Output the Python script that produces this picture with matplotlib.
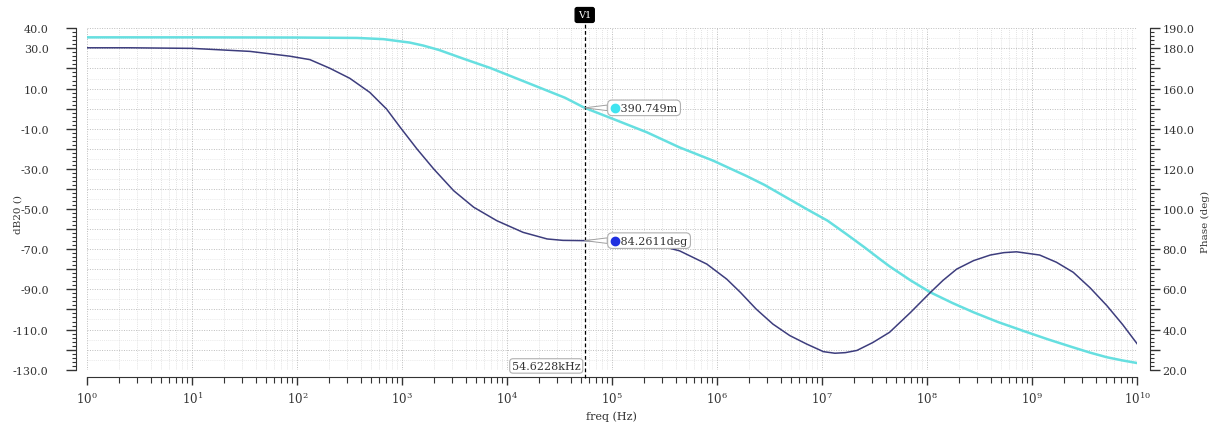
import numpy as np
import matplotlib
matplotlib.use("Agg")
import matplotlib.pyplot as plt
import matplotlib.transforms as mtransforms
from matplotlib.ticker import FixedLocator, MultipleLocator, FuncFormatter, NullFormatter, LogFormatterMathtext

plt.rcParams['font.family'] = ['DejaVu Serif']
plt.rcParams['mathtext.fontset'] = 'dejavuserif'

# ---------------- data ----------------
mag_exp = [0.0, 1.0, 2.0, 2.57, 2.82, 2.98, 3.07, 3.20, 3.35, 3.58, 3.84, 4.09, 4.32, 4.55, 4.737,
           5.01, 5.33, 5.64, 5.96, 6.28, 6.45, 6.60, 6.85, 7.05, 7.23, 7.40, 7.55, 7.64, 7.84,
           8.03, 8.24, 8.44, 8.67, 8.91, 9.15, 9.39, 9.55, 9.71, 9.86, 10.0]
mag_db = [35.5, 35.5, 35.4, 35.2, 34.6, 33.5, 32.9, 31.4, 29.2, 24.9, 20.2, 15.0, 10.2, 5.4, 0.39,
          -5.2, -11.8, -19.3, -25.9, -33.6, -38.0, -42.5, -50.0, -55.8, -62.5, -69.0, -75.0, -78.5, -85.5,
          -91.5, -96.8, -101.4, -106.2, -110.6, -114.9, -118.9, -121.5, -123.8, -125.4, -126.7]

ph_exp = [0.0, 0.4, 1.0, 1.55, 1.93, 2.12, 2.31, 2.50, 2.69, 2.85, 2.98, 3.14, 3.30, 3.49, 3.68,
          3.90, 4.15, 4.38, 4.53, 4.737, 5.0, 5.33, 5.64, 5.90, 6.09, 6.22, 6.37, 6.53, 6.69, 6.85,
          7.01, 7.12, 7.22, 7.33, 7.48, 7.64, 7.84, 8.03, 8.15, 8.28, 8.44, 8.60, 8.73, 8.85, 9.07,
          9.23, 9.39, 9.55, 9.71, 9.86, 10.0]
ph_deg = [180.3, 180.3, 180.0, 178.5, 176.1, 174.4, 170.1, 165.1, 158.1, 149.8, 140.7, 129.9, 119.9, 109.1, 100.9,
          94.2, 88.4, 85.1, 84.4, 84.26, 84.2, 83.4, 79.2, 72.6, 65.1, 58.5, 50.2, 42.7, 37.0, 32.8,
          29.0, 28.2, 28.5, 29.6, 33.5, 38.6, 48.5, 58.5, 64.5, 70.1, 74.3, 77.1, 78.3, 78.7, 77.1,
          73.5, 68.5, 60.8, 51.9, 42.5, 32.8]

cursor_freq = 54622.8
cursor_mag = 0.390749
cursor_phase = 84.2611

decades = list(range(0, 11))
left_labels = [40, 30, 10, -10, -30, -50, -70, -90, -110, -130]
right_labels = [190, 180, 160, 140, 120, 100, 80, 60, 40, 20]

mag_f = [10.0 ** e for e in mag_exp]
ph_f = [10.0 ** e for e in ph_exp]

# ---------------- figure ----------------
W, H = 1216, 427
fig = plt.figure(figsize=(W / 100, H / 100), dpi=100)
x0, x1 = 87.3, 1137.3
ytop, ybot = 29.3, 370.7
ax = fig.add_axes([x0 / W, 1 - ybot / H, (x1 - x0) / W, (ybot - ytop) / H])
ax2 = ax.twinx()

ax.set_xscale('log')
ax.set_xlim(1, 1e10)
ax.set_ylim(-130, 40)
ax2.set_ylim(20, 190)

txt_col = '#333333'
sp_col = '#333333'

# ticks / grid
major_x = [10.0 ** d for d in decades]
minor_x = [m * 10.0 ** d for d in decades[:-1] for m in range(2, 10)]
ax.xaxis.set_major_locator(FixedLocator(major_x))
ax.xaxis.set_minor_locator(FixedLocator(minor_x))
ax.xaxis.set_major_formatter(LogFormatterMathtext())
ax.xaxis.set_minor_formatter(NullFormatter())

ax.set_axisbelow(True)
ax.yaxis.set_major_locator(MultipleLocator(10))
ax.yaxis.set_minor_locator(MultipleLocator(2))
ax.grid(True, which='major', axis='both', ls=(0, (1, 1.5)), color='#bdbdbd', lw=0.7)
ax.grid(True, which='minor', axis='x', ls=(0, (1, 1.5)), color='#d9d9d9', lw=0.6)
for v in np.arange(-125, 40, 10):
    ax.axhline(v, ls=(0, (1, 1.5)), color='#e2e2e2', lw=0.6, zorder=0)

# curves
ax.plot(mag_f, mag_db, color='#66dfe0', lw=1.8, zorder=3, solid_joinstyle='round')
ax2.plot(ph_f, ph_deg, color='#3d3d7d', lw=1.1, zorder=3, solid_joinstyle='round')

# spines
for a in (ax, ax2):
    a.spines['top'].set_visible(False)
ax.spines['right'].set_visible(False)
ax2.spines['left'].set_visible(False)
ax2.spines['bottom'].set_visible(False)
ax.spines['left'].set_position(('outward', 8.3))
ax.spines['bottom'].set_position(('outward', 5.4))
ax2.spines['right'].set_position(('outward', 9.1))
for s in ('left', 'bottom'):
    ax.spines[s].set_color(sp_col)
ax2.spines['right'].set_color(sp_col)

ax.tick_params(axis='x', which='major', length=6, width=1, pad=3, labelsize=8.5,
               colors=sp_col, labelcolor=txt_col)
ax.tick_params(axis='x', which='minor', length=4, width=0.8, colors=sp_col)

lfmt = FuncFormatter(lambda v, p: ('%.1f' % v) if int(round(v)) in left_labels else '')
ax.yaxis.set_major_formatter(lfmt)
ax.tick_params(axis='y', which='major', length=7.5, width=1, pad=12, labelsize=8,
               colors=sp_col, labelcolor=txt_col)
ax.tick_params(axis='y', which='minor', length=3, width=0.8, colors=sp_col)

ax2.yaxis.set_major_locator(MultipleLocator(10))
ax2.yaxis.set_minor_locator(MultipleLocator(2))
rfmt = FuncFormatter(lambda v, p: ('%.1f' % v) if int(round(v)) in right_labels else '')
ax2.yaxis.set_major_formatter(rfmt)
ax2.tick_params(axis='y', which='major', length=7, width=1, pad=2, labelsize=8,
                colors=sp_col, labelcolor=txt_col)
ax2.tick_params(axis='y', which='minor', length=3, width=0.8, colors=sp_col)

# axis labels
fig.text(611 / W, 1 - 417 / H, 'freq (Hz)', ha='center', va='center', fontsize=8, color=txt_col)
fig.text(18 / W, 1 - 215 / H, 'dB20 ()', ha='center', va='center', rotation=90, fontsize=7.5, color=txt_col)
fig.text(1205 / W, 1 - 222 / H, 'Phase (deg)', ha='center', va='center', rotation=90, fontsize=7.5, color=txt_col)

# cursor
ax.axvline(cursor_freq, ymin=-8 / 341.4, ymax=1 + 8 / 341.4, clip_on=False,
           color='black', ls=(0, (3, 2)), lw=0.9, zorder=5)
btrans = mtransforms.blended_transform_factory(ax.transData, ax.transAxes)
ax.text(cursor_freq, 1.039, 'V1', transform=btrans, ha='center', va='center',
        color='white', fontsize=7,
        bbox=dict(boxstyle='round,pad=0.3,rounding_size=0.2', fc='black', ec='black'),
        zorder=6, clip_on=False)
ax.annotate('54.6228kHz', xy=(cursor_freq, 0.011), xycoords=btrans,
            xytext=(-3, 0), textcoords='offset points', ha='right', va='center',
            fontsize=8, color=txt_col, zorder=6,
            bbox=dict(boxstyle='round,pad=0.2,rounding_size=0.3', fc='white', ec='#b0b0b0', lw=0.8))

# markers with callouts
def callout(a, yval, label, dotcol):
    a.annotate('   ' + label, xy=(cursor_freq, yval), xycoords='data',
               xytext=(18.5, 0), textcoords='offset points', ha='left', va='center',
               fontsize=8, color=txt_col, zorder=7,
               bbox=dict(boxstyle='round,pad=0.25,rounding_size=0.4', fc='white', ec='#b0b0b0', lw=0.8),
               arrowprops=dict(arrowstyle='wedge,tail_width=0.5,shrink_factor=0.5',
                               fc='white', ec='#a0a0a0', lw=0.7, shrinkA=0, shrinkB=0))
    tr = mtransforms.offset_copy(a.transData, fig=fig, x=30, y=0, units='dots')
    a.plot([cursor_freq], [yval], 'o', ms=6, color=dotcol, transform=tr, zorder=8, clip_on=False)

callout(ax, cursor_mag, '390.749m', '#40e4f0')
callout(ax2, cursor_phase, '84.2611deg', '#2030e0')

fig.savefig('out.png', dpi=100)
